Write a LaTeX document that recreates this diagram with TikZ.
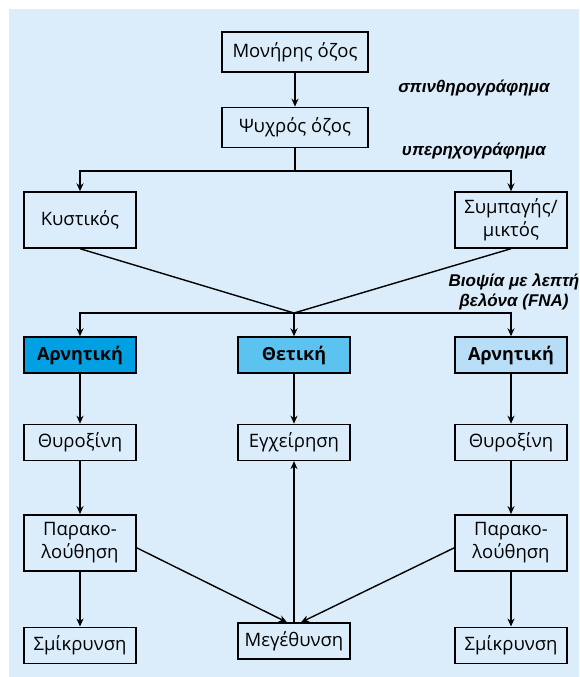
\documentclass[tikz,border=0pt]{standalone}
\usepackage{fontspec}
\setmainfont{Open Sans}
\newfontfamily\notefont{Liberation Sans}
\usepackage{xcolor}
\usetikzlibrary{arrows.meta,positioning,calc}
\definecolor{bgblue}{HTML}{DBEDFB}
\definecolor{negdark}{HTML}{00A0E2}
\definecolor{posmid}{HTML}{5CC3F0}
\definecolor{negpale}{HTML}{B7DEF6}

\begin{document}
\begin{tikzpicture}[x=1pt, y=-1pt,
  box/.style={rectangle, draw=black, fill=bgblue, line width=1.4pt,
    minimum width=112pt, minimum height=36pt, inner sep=2pt,
    font=\fontsize{18.5}{23}\selectfont, align=center},
  tallbox/.style={box, minimum height=56pt},
  result/.style={box, font=\fontsize{18}{22}\selectfont\bfseries},
  note/.style={font=\notefont\fontsize{17}{20.5}\selectfont\bfseries\itshape, align=center},
  line/.style={line width=1.4pt},
  arrow/.style={line, -{Stealth[length=8pt,width=7pt]}},
  node distance=34pt
]

% Background
\useasboundingbox (0,0) rectangle (579,677);
\fill[bgblue] (9,9) rectangle (579,677);

% Top chain
\node[box, minimum width=146pt, minimum height=40pt] (mon) at (295,52) {Μονήρης όζος};
\node[box, minimum width=146pt, minimum height=40pt, below=of mon] (psy) {Ψυχρός όζος};
\node[tallbox] (kys) at (80,220) {Κυστικός};
\node[tallbox] (sym) at (511,220) {Συμπαγής/\\μικτός};

% Biopsy results
\node[result, fill=negdark] (arn1) at (80,355) {Αρνητική};
\node[result, fill=posmid] (pos) at (294,355) {Θετική};
\node[result, fill=negpale] (arn2) at (511,355) {Αρνητική};

% Follow-up columns
\node[box, below=50pt of arn1] (thy1) {Θυροξίνη};
\node[box, below=50pt of pos] (eg) {Εγχείρηση};
\node[box, below=50pt of arn2] (thy2) {Θυροξίνη};
\node[tallbox, below=53pt of thy1] (par1) {Παρακο-\\λούθηση};
\node[tallbox, below=53pt of thy2] (par2) {Παρακο-\\λούθηση};
\node[box, below=55pt of par1] (sm1) {Σμίκρυνση};
\node[box, below=55pt of par2] (sm2) {Σμίκρυνση};
\node[box] (meg) at (294,641) {Μεγέθυνση};

% Method labels
\node[note] (scan) at (474,88) {σπινθηρογράφημα};
\node[note] (echo) at (474,151) {υπερηχογράφημα};
\node[note] (fna) at (514,292) {Βιοψία με λεπτή\\βελόνα (FNA)};

% Arrows
\draw[arrow] (mon) -- (psy);
\draw[line] (psy.south) -- ++(0,23) coordinate (split);
\draw[arrow] (split) -| (kys.north);
\draw[arrow] (split) -| (sym.north);
\coordinate (merge) at (294,313);
\draw[line] (kys.south) -- (merge) -- (sym.south);
\draw[arrow] (merge) -| (arn1.north);
\draw[arrow] (merge) -| (arn2.north);
\draw[arrow] (merge) -- (pos.north);

\draw[arrow] (arn1) -- (thy1);
\draw[arrow] (thy1) -- (par1);
\draw[arrow] (par1) -- (sm1);
\draw[arrow] (pos) -- (eg);
\draw[arrow] (arn2) -- (thy2);
\draw[arrow] (thy2) -- (par2);
\draw[arrow] (par2) -- (sm2);
\draw[arrow] (meg) -- (eg);
\draw[arrow] ([yshift=-5pt]par1.east) -- ([xshift=-7pt]meg.north);
\draw[arrow] ([yshift=-5pt]par2.west) -- ([xshift=7pt]meg.north);

\end{tikzpicture}
\end{document}
